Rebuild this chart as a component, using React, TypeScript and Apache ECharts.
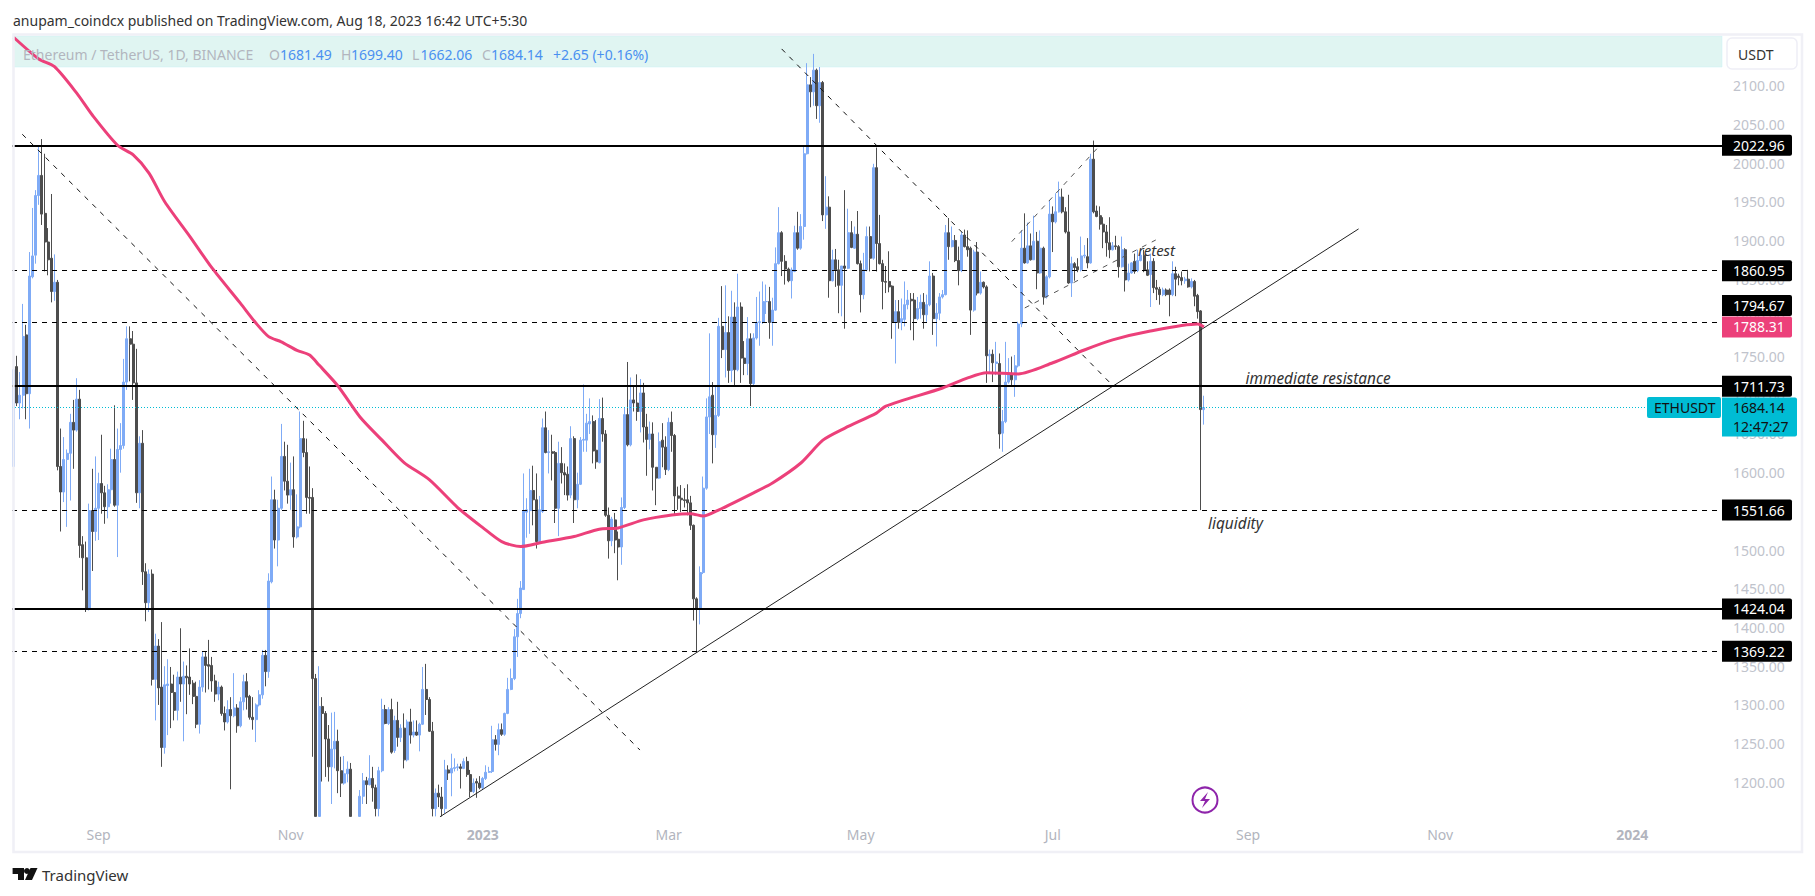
import React, { useEffect, useRef } from "react";
import * as echarts from "echarts";

const opens = [
1608,1737,1690,1700,1778,1702,1853,1881,1958,1984,
1935,1898,1877,1834,1846,1608,1575,1617,1625,1665,
1655,1695,1507,1490,1425,1551,1524,1554,1586,1574,
1556,1578,1617,1558,1630,1635,1717,1773,1766,1716,
1574,1638,1472,1432,1469,1333,1376,1323,1245,1325,
1327,1316,1293,1336,1327,1337,1336,1328,1311,1275,
1323,1362,1352,1351,1331,1314,1323,1289,1278,1294,
1286,1296,1273,1304,1330,1311,1284,1281,1300,1313,
1364,1343,1459,1565,1513,1554,1621,1589,1571,1578,
1517,1530,1644,1626,1568,1568,1334,1156,1298,1289,
1256,1220,1243,1253,1215,1199,1211,1217,1140,1108,
1156,1182,1202,1197,1205,1193,1166,1215,1294,1276,
1294,1241,1280,1258,1270,1229,1278,1261,1265,1261,
1275,1320,1307,1266,1166,1186,1181,1166,1216,1212,
1218,1219,1220,1218,1227,1210,1188,1201,1199,1193,
1205,1213,1214,1255,1249,1268,1262,1289,1320,1334,
1388,1418,1449,1549,1551,1577,1565,1511,1550,1658,
1626,1627,1626,1554,1612,1600,1598,1571,1644,1565,
1585,1642,1642,1663,1666,1629,1613,1670,1650,1545,
1512,1539,1514,1504,1555,1675,1636,1694,1690,1679,
1703,1659,1643,1650,1607,1593,1642,1633,1604,1665,
1648,1570,1567,1565,1565,1561,1532,1437,1424,1471,
1580,1672,1700,1649,1674,1789,1759,1781,1732,1801,
1733,1814,1748,1741,1773,1715,1774,1794,1794,1821,
1821,1794,1810,1870,1910,1873,1863,1848,1860,1910,
1890,1918,2012,2101,2092,2120,2074,2104,1933,1943,
1848,1875,1862,1842,1867,1864,1910,1890,1908,1870,
1830,1862,1905,1877,1994,1896,1870,1847,1847,1841,
1794,1808,1794,1798,1817,1824,1823,1799,1812,1820,
1804,1817,1854,1799,1806,1827,1830,1910,1892,1900,
1874,1861,1907,1892,1890,1810,1885,1832,1846,1840,
1751,1753,1741,1741,1651,1666,1717,1728,1720,1738,
1792,1890,1871,1893,1875,1899,1858,1890,1827,1853,
1934,1924,1937,1956,1937,1911,1845,1870,1866,1862,
1880,1879,1871,2005,1938,1932,1921,1911,1897,1888,
1893,1892,1866,1888,1849,1858,1873,1861,1874,1881,
1862,1856,1873,1839,1837,1830,1836,1836,1830,1857,
1854,1852,1848,1850,1840,1847,1829,1809,1681.49,
];
const closes = [
1733,1690,1700,1776,1702,1854,1880,1958,1984,1934,
1898,1875,1834,1846,1608,1575,1617,1625,1665,1655,
1695,1506,1490,1425,1551,1524,1554,1586,1574,1556,
1578,1617,1558,1630,1635,1717,1773,1766,1716,1574,
1638,1472,1432,1469,1333,1376,1322,1245,1326,1327,
1316,1293,1336,1327,1337,1335,1327,1311,1275,1323,
1362,1351,1350,1331,1314,1323,1289,1278,1294,1286,
1296,1273,1304,1330,1310,1284,1281,1300,1313,1364,
1343,1460,1565,1513,1554,1621,1589,1571,1578,1517,
1530,1644,1626,1568,1567,1334,1156,1298,1289,1256,
1220,1243,1253,1215,1199,1211,1217,1156,1108,1136,
1182,1202,1197,1205,1193,1166,1215,1294,1276,1294,
1239,1280,1258,1270,1229,1278,1261,1265,1261,1275,
1320,1307,1266,1166,1186,1181,1166,1216,1212,1218,
1219,1220,1218,1227,1210,1188,1199,1199,1193,1205,
1213,1214,1255,1249,1268,1262,1289,1320,1334,1388,
1418,1451,1551,1552,1577,1565,1511,1552,1658,1626,
1627,1625,1554,1612,1600,1597,1571,1644,1565,1585,
1642,1643,1664,1666,1628,1614,1670,1650,1545,1512,
1540,1513,1504,1555,1675,1636,1694,1690,1679,1703,
1659,1643,1650,1607,1593,1640,1633,1604,1665,1648,
1570,1567,1565,1564,1561,1532,1437,1424,1471,1580,
1672,1698,1649,1674,1789,1759,1781,1732,1801,1733,
1814,1748,1741,1773,1715,1774,1794,1795,1821,1821,
1794,1810,1870,1910,1873,1863,1848,1862,1910,1890,
1918,2012,2101,2092,2120,2074,2104,1933,1943,1848,
1875,1862,1842,1867,1864,1910,1891,1908,1870,1830,
1862,1905,1877,1994,1896,1870,1847,1846,1840,1794,
1808,1794,1799,1817,1823,1822,1799,1812,1820,1804,
1817,1854,1799,1806,1827,1830,1910,1892,1900,1874,
1861,1907,1892,1888,1810,1885,1832,1846,1840,1751,
1753,1742,1743,1650,1666,1717,1728,1720,1738,1792,
1890,1871,1893,1875,1899,1858,1890,1827,1853,1934,
1924,1937,1956,1937,1911,1845,1870,1865,1862,1880,
1881,1871,2005,1937,1931,1921,1911,1897,1888,1893,
1892,1866,1888,1849,1858,1871,1860,1874,1881,1861,
1855,1873,1839,1837,1830,1836,1830,1830,1857,1850,
1852,1848,1850,1840,1847,1828,1808,1681.49,1684.14,
];
const highs = [
1746,1751,1730,1818,1791,1885,1942,1965,2021,2031,
2012,1916,1960,1882,1849,1657,1646,1630,1676,1694,
1722,1707,1518,1511,1560,1605,1621,1600,1649,1583,
1585,1631,1687,1657,1664,1747,1789,1789,1783,1760,
1647,1655,1483,1475,1475,1392,1385,1407,1350,1359,
1349,1339,1343,1399,1356,1351,1373,1332,1330,1332,
1369,1369,1384,1362,1339,1330,1325,1298,1306,1310,
1341,1301,1310,1339,1341,1313,1310,1302,1319,1371,
1371,1470,1595,1578,1565,1663,1640,1636,1613,1621,
1572,1679,1667,1644,1608,1580,1340,1350,1310,1292,
1274,1290,1291,1268,1233,1234,1227,1225,1152,1140,
1190,1212,1207,1235,1220,1197,1220,1308,1300,1297,
1308,1286,1304,1275,1289,1281,1295,1280,1280,1277,
1349,1353,1310,1278,1192,1197,1194,1229,1222,1237,
1231,1224,1224,1231,1233,1216,1205,1205,1208,1207,
1222,1220,1273,1261,1276,1276,1290,1335,1347,1398,
1437,1460,1599,1567,1605,1609,1599,1570,1670,1679,
1655,1649,1628,1640,1633,1612,1608,1660,1647,1600,
1646,1714,1676,1696,1674,1668,1695,1697,1655,1555,
1543,1548,1524,1568,1684,1743,1723,1713,1727,1721,
1716,1676,1666,1665,1607,1652,1664,1647,1671,1679,
1650,1582,1584,1580,1585,1570,1533,1439,1479,1595,
1696,1780,1717,1711,1800,1841,1842,1802,1835,1820,
1857,1820,1770,1801,1780,1780,1827,1834,1847,1843,
1840,1826,1891,1943,1912,1881,1865,1865,1919,1937,
1934,2022,2129,2111,2141,2122,2124,2106,1983,1957,
1888,1889,1875,1867,1965,1941,1925,1918,1938,1874,
1884,1918,1918,1999,2020,1933,1875,1867,1886,1842,
1823,1823,1825,1847,1836,1832,1832,1827,1830,1832,
1830,1873,1858,1819,1832,1836,1920,1929,1918,1907,
1892,1911,1914,1913,1892,1888,1898,1860,1847,1842,
1759,1759,1769,1754,1681,1769,1748,1750,1752,1795,
1913,1935,1923,1909,1932,1911,1913,1892,1855,1952,
1944,1961,1976,1967,1943,1959,1879,1872,1877,1905,
1894,1903,2012,2029,1945,1944,1930,1920,1930,1898,
1906,1894,1905,1890,1870,1872,1883,1888,1885,1888,
1873,1883,1877,1849,1840,1839,1838,1838,1873,1866,
1857,1860,1853,1862,1851,1849,1831,1810,1699.4,
];
const lows = [
1605,1686,1669,1683,1669,1657,1851,1870,1946,1920,
1860,1855,1820,1822,1603,1524,1562,1530,1564,1605,
1653,1490,1448,1420,1422,1473,1512,1513,1547,1534,
1541,1560,1556,1491,1600,1631,1707,1718,1694,1561,
1554,1455,1408,1420,1325,1280,1300,1220,1237,1261,
1270,1280,1280,1304,1253,1288,1313,1301,1270,1263,
1317,1316,1320,1317,1304,1306,1286,1267,1276,1191,
1284,1264,1271,1293,1294,1281,1268,1252,1298,1308,
1324,1335,1457,1502,1479,1552,1577,1560,1552,1503,
1515,1528,1620,1547,1547,1233,1156,1156,1201,1207,
1201,1172,1218,1186,1181,1197,1200,1156,1073,1075,
1156,1172,1172,1196,1175,1156,1156,1213,1275,1274,
1237,1238,1246,1252,1218,1227,1250,1258,1260,1240,
1274,1287,1265,1156,1156,1168,1156,1160,1203,1182,
1214,1215,1192,1217,1207,1181,1186,1180,1191,1190,
1203,1212,1212,1241,1235,1260,1260,1288,1319,1332,
1362,1412,1449,1516,1521,1532,1502,1510,1548,1625,
1599,1590,1535,1518,1586,1571,1564,1567,1535,1554,
1584,1627,1627,1650,1612,1605,1612,1640,1543,1489,
1505,1496,1461,1481,1553,1634,1634,1679,1667,1652,
1639,1596,1630,1577,1558,1592,1607,1597,1602,1627,
1545,1552,1549,1555,1545,1526,1409,1369,1404,1469,
1578,1650,1612,1632,1672,1748,1723,1716,1717,1713,
1731,1716,1726,1726,1686,1713,1772,1764,1792,1805,
1773,1764,1809,1869,1854,1843,1846,1825,1859,1888,
1888,1901,2011,2072,2074,2057,2052,1925,1915,1826,
1847,1840,1806,1802,1786,1863,1890,1889,1869,1807,
1824,1860,1860,1875,1860,1869,1811,1832,1833,1773,
1741,1786,1784,1789,1811,1784,1771,1797,1799,1786,
1795,1815,1778,1763,1797,1825,1829,1875,1891,1872,
1842,1859,1891,1879,1778,1808,1829,1830,1838,1716,
1728,1717,1726,1631,1627,1664,1715,1713,1698,1736,
1788,1870,1870,1874,1875,1837,1857,1817,1825,1851,
1885,1922,1936,1935,1909,1844,1827,1848,1859,1860,
1877,1864,1870,1935,1930,1914,1890,1879,1877,1887,
1888,1852,1865,1834,1847,1857,1857,1859,1873,1859,
1854,1814,1832,1823,1817,1828,1828,1802,1828,1828,
1842,1842,1844,1839,1838,1815,1799,1551.66,1662.06,
];

const maIndex = [0,8,13,20,25,33,38,43,48,56,63,72,77,81,85,90,94,97,103,110,117,124,132,141,149,155,161,168,178,186,192,200,209,215,219,224,235,241,250,257,264,274,277,295,303,309,319,330,340,349,361,376,378];
const maValues = [2162.5,2134.5,2124.5,2090.6,2062,2023,2010.5,1987,1950,1905,1864.5,1819,1793,1775.7,1769,1758,1752,1739,1712,1672,1642,1613,1591,1555,1529,1511,1504.5,1510,1517.5,1527,1528.6,1539,1545.4,1547,1544,1552,1574,1586.7,1612.5,1642,1657.6,1677,1686,1709.4,1722.4,1729,1727.6,1742,1758.5,1771.5,1783,1792,1788.31];

const trendDescA = [[2.76,2037.2],[198.9,1241.7]];
const trendDescB = [[243.9,2147.4],[348,1716.8]];
const trendSupport = [[135.4,1155.5],[427.1,1914.9]];
const channelUpper = [[316.95,1898.4],[344.3,2019.9]];
const channelLower = [[321.1,1812.8],[362.7,1900.6]];

const priceTicks = [1200,1250,1300,1350,1400,1450,1500,1550,1600,1650,1700,1750,1800,1850,1900,1950,2000,2050,2100];
const solidLevels = [2022.96,1711.73,1424.04];
const dashedLevels = [1860.95,1794.67,1551.66,1369.22];
const lastPrice = 1684.14;
const maLast = 1788.31;
const timeLabels: Record<number, string> = {27:"Sep",88:"Nov",149:"{b|2023}",208:"Mar",269:"May",330:"Jul",392:"Sep",453:"Nov",514:"{b|2024}"};
const slotCount = 543;

const FONT = "'Noto Sans', sans-serif";
const GREY = "#b2b5be";
const BLUE = "#4a90f0";
const TEAL = "#00bcd4";
const PINK = "#ec407a";

const tag = (bg: string, fg = "#fff") => ({
  show: true, position: "end" as const, distance: 0, color: fg, backgroundColor: bg,
  fontFamily: FONT, fontSize: 14, width: 59, height: 21, lineHeight: 21,
  padding: [0, 0, 0, 11], borderRadius: [0, 2, 2, 0], align: "left" as const,
  formatter: (p: any) => Number(p.value).toFixed(2),
});
const line = (data: number[][], dashed: boolean, color = "#111", width = 1) => ({
  type: "line", xAxisIndex: 1, yAxisIndex: 0, data, symbol: "none", silent: true, z: 3,
  lineStyle: { color, width, type: dashed ? [5, 6] : "solid" },
});
const legendTexts: [number, string, string][] = [
  [23,"Ethereum / TetherUS, 1D, BINANCE",GREY],[269,"O",GREY],[280,"1681.49",BLUE],[341,"H",GREY],[351,"1699.40",BLUE],
  [412,"L",GREY],[420.5,"1662.06",BLUE],[482,"C",GREY],[491,"1684.14",BLUE],[553,"+2.65 (+0.16%)",BLUE],
];

export default function App() {
  const ref = useRef<HTMLDivElement>(null);
  useEffect(() => {
    document.body.style.margin = "0";
    document.body.style.overflow = "hidden";
    const chart = echarts.init(ref.current!, null, { renderer: "svg" });
    const start = Date.UTC(2022, 7, 5);
    const categories = Array.from({ length: slotCount }, (_, i) => new Date(start + i * 86400000).toISOString().slice(0, 10));
    const candles = opens.map((o, i) => [o, closes[i], lows[i], highs[i]]);
    const txt = (x: number, y: number, text: string, extra: any = {}) => ({
      type: "text", x, y, z: 12, silent: true,
      style: { text, fill: "#333", font: `14px ${FONT}`, textVerticalAlign: "middle", ...extra },
    });
    chart.setOption({
      animation: false,
      backgroundColor: "#fff",
      grid: { left: 12, top: 36, width: 1710, height: 781 },
      xAxis: [
        {
          type: "category", data: categories, boundaryGap: true,
          axisLine: { show: false }, axisTick: { show: false }, splitLine: { show: false },
          axisLabel: {
            interval: (i: number) => timeLabels[i] !== undefined, hideOverlap: false,
            color: GREY, fontFamily: FONT, fontSize: 14, margin: 10,
            formatter: (_: string, i: number) => timeLabels[i] ?? "",
            rich: { b: { fontWeight: "bold", color: GREY, fontFamily: FONT, fontSize: 14 } },
          },
        },
        { type: "value", min: -0.5, max: slotCount - 0.5, show: false },
      ],
      yAxis: {
        type: "value", position: "right", min: 1155.2, max: 2164.1, scale: true,
        axisLine: { show: false }, axisTick: { show: false }, splitLine: { show: false },
        axisLabel: {
          customValues: priceTicks, color: "#c0c3cc", fontFamily: FONT, fontSize: 14, margin: 11,
          formatter: (v: number) => v.toFixed(2),
        },
      },
      series: [
        {
          type: "candlestick", xAxisIndex: 0, yAxisIndex: 0, data: candles, barWidth: 2.5, z: 2,
          progressive: 0, large: false, silent: true,
          itemStyle: { color: "#7fabf6", color0: "#4d4d4d", borderColor: "#7fabf6", borderColor0: "#4d4d4d", borderWidth: 1 },
          markLine: {
            symbol: "none", silent: true, animation: false, z: 4,
            data: [
              ...solidLevels.map((v) => ({ yAxis: v, lineStyle: { color: "#000", width: 2, type: "solid" }, label: tag("#000") })),
              ...dashedLevels.map((v) => ({
                yAxis: v, lineStyle: { color: "#000", width: 1, type: [5, 5] },
                label: { ...tag("#000"), offset: v === 1794.67 ? [0, -16.5] : [0, 0] },
              })),
              { yAxis: maLast, lineStyle: { color: "transparent", width: 0 }, label: tag(PINK) },
              {
                yAxis: lastPrice, lineStyle: { color: TEAL, width: 1, type: [1, 2] },
                label: { ...tag(TEAL, "#111"), width: 64, height: 39, lineHeight: 19, offset: [0, 9.5], formatter: "1684.14\n12:47:27" },
              },
              {
                yAxis: lastPrice, lineStyle: { color: "transparent", width: 0 },
                label: { ...tag(TEAL, "#111"), width: 67, padding: [0, 0, 0, 7], offset: [-75, 0], borderRadius: 2, formatter: "ETHUSDT" },
              },
            ],
          },
        },
        line(trendDescA, true),
        line(trendDescB, true),
        line(trendSupport, false, "#222", 1),
        line(channelUpper, true, "#555"),
        line(channelLower, true, "#555"),
        {
          type: "line", xAxisIndex: 1, yAxisIndex: 0, symbol: "none", silent: true, z: 5, smooth: 0.25,
          data: maIndex.map((x, i) => [x, maValues[i]]),
          lineStyle: { color: PINK, width: 3 },
        },
      ],
      graphic: [
        { type: "rect", z: 0, silent: true, shape: { x: 13, y: 36, width: 1709, height: 31 }, style: { fill: "#e0f5f2", stroke: "#c8f1f4", lineWidth: 0.5 } },
        { type: "rect", z: 11, silent: true, shape: { x: 13.5, y: 34.5, width: 1788.5, height: 817.5 }, style: { fill: "none", stroke: "#f0f0f6", lineWidth: 2.5 } },
        { type: "rect", z: 11, silent: true, shape: { x: 1727, y: 38, width: 70, height: 31, r: 5 }, style: { fill: "#fff", stroke: "#eeeef6", lineWidth: 1.5 } },
        txt(1738, 54, "USDT"),
        txt(13, 20, "anupam_coindcx published on TradingView.com, Aug 18, 2023 16:42 UTC+5:30"),
        ...legendTexts.map(([x, t, c]) => txt(x, 54, t, { fill: c })),
        txt(1245.5, 378, "immediate resistance", { font: `italic 15.4px ${FONT}` }),
        txt(1208, 523, "liquidity", { font: `italic 15.4px ${FONT}` }),
        txt(1138, 250, "retest", { font: `italic 15px ${FONT}` }),
        { type: "circle", z: 12, silent: true, shape: { cx: 1205, cy: 800, r: 12.5 }, style: { fill: "#fff", stroke: "#8e24aa", lineWidth: 2 } },
        { type: "polygon", z: 12, silent: true, shape: { points: [[1208, 792],[1200,801],[1205,801],[1202,808],[1210,799],[1205,799]] }, style: { fill: "#8e24aa" } },
        { type: "polygon", z: 12, silent: true, shape: { points: [[12.6,868],[24,868],[24,880],[18,880],[18,874],[12.6,874]] }, style: { fill: "#111" } },
        { type: "circle", z: 12, silent: true, shape: { cx: 27, cy: 871, r: 3 }, style: { fill: "#111" } },
        { type: "polygon", z: 12, silent: true, shape: { points: [[30.5,868],[37.5,868],[32,880],[25,880]] }, style: { fill: "#111" } },
        txt(42, 875, "TradingView", { font: `15px ${FONT}` }),
      ],
    });
    return () => chart.dispose();
  }, []);
  return <div ref={ref} style={{ position: "absolute", left: 0, top: 0, width: 1815, height: 896, background: "#fff" }} />;
}
